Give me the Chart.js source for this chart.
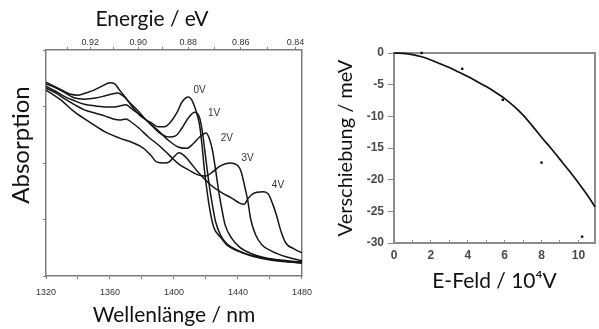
<!DOCTYPE html>
<html><head><meta charset="utf-8">
<script src="https://cdn.jsdelivr.net/npm/chart.js@4.4.1/dist/chart.umd.min.js"></script>
<style>
html,body{margin:0;padding:0;background:#fff;width:599px;height:329px;overflow:hidden}
#c1{position:absolute;left:0;top:0}
#c2{position:absolute;left:320px;top:0}
</style></head><body>
<canvas id="c1" width="320" height="329"></canvas>
<canvas id="c2" width="279" height="329"></canvas>
<script>
// ---------- Left panel: absorption spectra ----------
const voltageLabels = ['0V','1V','2V','3V','4V'];
const wl0 = [1320,1325,1330,1335,1340,1345,1350,1355,1360,1363,1366,1370,1374,1380,1386,1390,1394,1398,1402,1405,1409,1411,1414,1416,1417.5,1419,1421,1423,1425,1429,1433,1440,1449,1461,1480];
const abs0 = [3.43,3.36,3.29,3.22,3.20,3.24,3.29,3.36,3.42,3.40,3.29,3.15,2.99,2.81,2.71,2.64,2.64,2.73,2.90,3.08,3.17,3.12,2.90,2.67,2.32,1.88,1.43,1.08,0.85,0.69,0.55,0.44,0.35,0.28,0.23];
const wl1 = [1320,1326,1332,1338,1344,1351,1357,1361,1365,1368,1372,1377,1382,1387,1392,1397,1401,1405,1409,1413,1416,1418,1420,1422,1424,1426,1429,1433,1441,1452,1467,1480];
const abs1 = [3.40,3.33,3.24,3.15,3.13,3.15,3.19,3.22,3.24,3.19,3.08,2.94,2.78,2.64,2.51,2.46,2.48,2.62,2.80,2.90,2.80,2.50,2.05,1.61,1.26,0.96,0.73,0.57,0.44,0.34,0.27,0.23];
const wl2 = [1320,1326,1332,1338,1344,1351,1357,1362,1366,1370,1373,1378,1384,1391,1397,1403,1408,1412,1416,1420,1422,1424,1426,1428,1430,1432,1436,1441,1449,1461,1480];
const abs2 = [3.36,3.27,3.17,3.10,3.04,3.01,2.99,2.99,3.01,3.03,2.97,2.87,2.73,2.55,2.39,2.28,2.26,2.34,2.46,2.53,2.44,2.23,1.88,1.49,1.17,0.90,0.67,0.51,0.39,0.30,0.25];
const wl3 = [1320,1326,1332,1338,1344,1351,1357,1362,1366,1370,1373,1378,1384,1391,1397,1403,1409,1415,1420,1424,1429,1435,1440,1442,1444,1446,1448,1451,1455,1461,1470,1480];
const abs3 = [3.33,3.24,3.13,3.03,2.94,2.88,2.83,2.78,2.76,2.78,2.73,2.62,2.46,2.30,2.14,1.98,1.88,1.79,1.77,1.84,1.95,2.00,1.95,1.84,1.61,1.35,1.00,0.73,0.55,0.44,0.34,0.27];
const wl4 = [1320,1329,1338,1348,1357,1366,1375,1381,1386,1389,1394,1397,1400,1403,1406,1409,1415,1423,1430,1436,1441,1444,1446,1449,1456,1459,1461.5,1464,1467,1470,1475,1480];
const abs4 = [3.29,3.12,2.90,2.71,2.55,2.44,2.35,2.26,2.12,2.02,2.00,2.02,2.11,2.18,2.14,2.05,1.84,1.61,1.47,1.38,1.29,1.27,1.36,1.45,1.49,1.45,1.29,1.08,0.78,0.58,0.48,0.41];
const labelWl = [1416,1425,1433,1446,1465];
const labelAbs = [3.29,2.88,2.44,2.09,1.61];
const wlTicks = [1320,1340,1360,1380,1400,1420,1440,1460,1480];
const wlLabelled = [1320,1360,1400,1440,1480];
const energyTicks = [0.93,0.92,0.91,0.90,0.89,0.88,0.87,0.86,0.85,0.84];
const energyLabelled = [0.92,0.90,0.88,0.86,0.84];
const absTicks = [0,1,2,3,4];

// ---------- Right panel: Stark shift ----------
const fieldPts = [1.5,3.7,5.9,8.0,10.2];
const shiftPts = [0,-2.5,-7.4,-17.3,-29.0];
const fitField = [0,0.5,1,1.5,2,2.5,3,3.5,4,4.5,5,5.5,6,6.5,7,7.5,8,8.5,9,9.5,10,10.5,10.9];
const fitShift = [0,-0.05,-0.25,-0.6,-1.1,-1.7,-2.3,-3.0,-3.7,-4.5,-5.3,-6.2,-7.2,-8.4,-9.8,-11.5,-13.3,-15.0,-16.8,-18.6,-20.5,-22.5,-24.3];
const fieldTicks = [0,1,2,3,4,5,6,7,8,9,10];
const shiftTicks = [-30,-25,-20,-15,-10,-5,0];

const HC = 1239.84;
const titleFont = {family:'Lato', size:21};
const tickFont = {family:'Liberation Sans', size:9};
const boxColor = '#7a7a7a';

const wls = [wl0,wl1,wl2,wl3,wl4];
const abss = [abs0,abs1,abs2,abs3,abs4];

const curveLabels = {
  id:'curveLabels',
  afterDatasetsDraw(chart){
    const {ctx, scales:{x,y}} = chart;
    ctx.save();
    ctx.font = '10px "Liberation Sans"';
    ctx.fillStyle = '#333';
    ctx.textAlign = 'center';
    ctx.textBaseline = 'middle';
    voltageLabels.forEach((t,i)=>{
      ctx.fillText(t, x.getPixelForValue(labelWl[i]), y.getPixelForValue(labelAbs[i]));
    });
    // axis titles placed off-centre as in the original figure
    ctx.fillStyle = '#111';
    ctx.font = '21px Lato';
    ctx.textBaseline = 'alphabetic';
    ctx.fillText('Energie / eV', 152, 26);
    ctx.translate(29, 145);
    ctx.rotate(-Math.PI/2);
    ctx.font = '24px Lato';
    ctx.fillText('Absorption', 0, 0);
    ctx.restore();
  }
};

new Chart(document.getElementById('c1'), {
  type:'line',
  data:{
    datasets: wls.map((w,k)=>({
      label: voltageLabels[k],
      data: w.map((v,i)=>({x:v, y:abss[k][i]})),
      borderColor:'#151515', borderWidth:1.5, pointRadius:0,
      cubicInterpolationMode:'monotone', fill:false
    }))
  },
  options:{
    responsive:false, animation:false, devicePixelRatio:1,
    layout:{padding:0},
    plugins:{legend:{display:false}, tooltip:{enabled:false}},
    scales:{
      x:{type:'linear', position:'bottom', min:1320, max:1480,
        afterBuildTicks:(a)=>{a.ticks = wlTicks.map(v=>({value:v}));},
        afterFit:(s)=>{s.height = 53;},
        ticks:{autoSkip:false, maxRotation:0, font:tickFont, color:'#333', padding:8,
          callback:(v)=> wlLabelled.includes(v) ? String(v) : ''},
        grid:{drawOnChartArea:false, tickLength:3, color:boxColor},
        border:{color:boxColor, width:1.5},
        title:{display:true, text:'Wellenlänge / nm', font:titleFont, color:'#111', padding:{top:0,bottom:1}}
      },
      x2:{type:'linear', position:'top', min:1320, max:1480,
        afterBuildTicks:(a)=>{a.ticks = energyTicks.map(e=>({value:HC/e}));},
        afterFit:(s)=>{s.height = 50;},
        ticks:{autoSkip:false, maxRotation:0, font:tickFont, color:'#333', padding:-1,
          callback:(v,i)=> energyLabelled.includes(energyTicks[i]) ? energyTicks[i].toFixed(2) : ''},
        grid:{drawOnChartArea:false, tickLength:3, color:boxColor},
        border:{color:boxColor, width:1.5},
        title:{display:false}
      },
      y:{type:'linear', position:'left', min:0, max:4,
        afterBuildTicks:(a)=>{a.ticks = absTicks.map(v=>({value:v}));},
        afterFit:(s)=>{s.width = 46;},
        ticks:{font:tickFont, callback:()=>''},
        grid:{drawOnChartArea:false, tickLength:3, color:boxColor},
        border:{color:boxColor, width:1.5},
        title:{display:false}
      },
      y2:{type:'linear', position:'right', min:0, max:4,
        afterFit:(s)=>{s.width = 13;},
        ticks:{display:false},
        grid:{display:false},
        border:{color:boxColor, width:1.5}
      }
    }
  },
  plugins:[curveLabels]
});

const tickFont2 = {family:'Liberation Sans', size:12, weight:'bold'};
const boxColor2 = '#8c8c8c';

new Chart(document.getElementById('c2'), {
  type:'line',
  data:{
    datasets:[
      {label:'Fit', data: fitField.map((v,i)=>({x:v, y:fitShift[i]})),
        borderColor:'#111', borderWidth:1.7, pointRadius:0, cubicInterpolationMode:'monotone', fill:false},
      {label:'Messung', data: fieldPts.map((v,i)=>({x:v, y:shiftPts[i]})),
        showLine:false, pointStyle:'rect', pointRadius:1.7, backgroundColor:'#111', borderColor:'#111', borderWidth:0}
    ]
  },
  options:{
    responsive:false, animation:false, devicePixelRatio:1,
    layout:{padding:0},
    clip:false,
    plugins:{legend:{display:false}, tooltip:{enabled:false}},
    scales:{
      x:{type:'linear', position:'bottom', min:0, max:10.9,
        afterBuildTicks:(a)=>{a.ticks = fieldTicks.map(v=>({value:v}));},
        afterFit:(s)=>{s.height = 86;},
        ticks:{autoSkip:false, maxRotation:0, font:tickFont2, color:'#4a4a4a', padding:8,
          callback:(v)=> v%2===0 ? String(v) : ''},
        grid:{drawOnChartArea:false, tickLength:-3, color:boxColor2},
        border:{color:boxColor2, width:2},
        title:{display:true, text:'E-Feld / 10⁴V', font:titleFont, color:'#111', padding:{top:0,bottom:35}}
      },
      x2:{type:'linear', position:'top', min:0, max:10.9,
        afterFit:(s)=>{s.height = 53;},
        ticks:{display:false}, grid:{display:false},
        border:{color:boxColor2, width:2}
      },
      y:{type:'linear', position:'left', min:-30, max:0,
        afterBuildTicks:(a)=>{a.ticks = shiftTicks.map(v=>({value:v}));},
        afterFit:(s)=>{s.width = 74;},
        ticks:{font:tickFont2, color:'#4a4a4a', padding:4},
        grid:{drawOnChartArea:false, tickLength:6, color:boxColor2},
        border:{color:boxColor2, width:2},
        title:{display:true, text:'Verschiebung / meV', font:{family:'Lato', size:20}, color:'#111', padding:{top:14,bottom:0}}
      },
      y2:{type:'linear', position:'right', min:-30, max:0,
        afterFit:(s)=>{s.width = 1;},
        ticks:{display:false}, grid:{display:false},
        border:{color:boxColor2, width:2}
      }
    }
  }
});
</script>
</body></html>
